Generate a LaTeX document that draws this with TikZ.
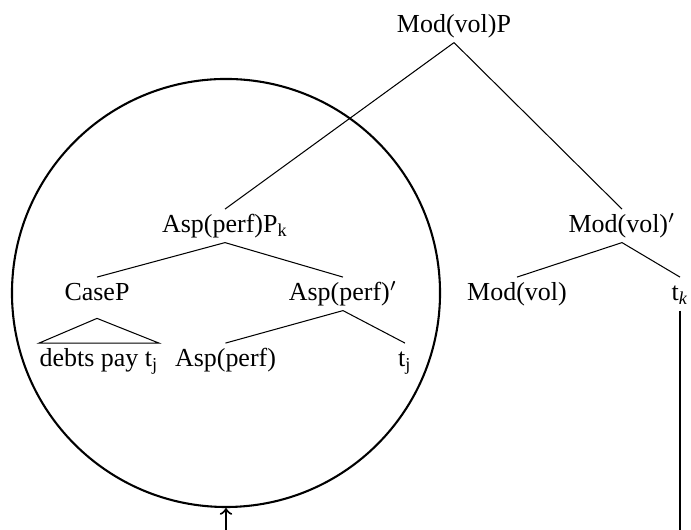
\documentclass[tikz,border=0pt]{standalone}
\usepackage{fontspec}
\setmainfont{Liberation Serif}
\begin{document}
\begin{tikzpicture}[x=0.385pt,y=-0.385pt]
        \tikzstyle{cat} = [anchor=base, inner sep=1pt, text height=.8em, text depth=.25em, font=\fontsize{10}{12}\selectfont]
        \tikzstyle{branch} = [draw=black, line width=.4pt]
        \tikzstyle{move} = [draw=black, line width=.8pt]
        \useasboundingbox (0,0) rectangle (691,530);
        \clip (0,0) rectangle (691,530);
        % tree
        \node[cat] (modp) at (454,33) {Mod(vol)P};
        \node[cat] (aspp) at (225,233) {Asp(perf)P\textsubscript{k}};
        \node[cat] (modbar) at (622,233) {Mod(vol)$'$};
        \node[cat] (casep) at (97,301) {CaseP};
        \node[cat] (aspbar) at (343,301) {Asp(perf)$'$};
        \node[cat] (mod) at (517,301) {Mod(vol)};
        \node[cat] (tk) at (680,301) {t\textsubscript{\textit{k}}};
        \node[cat, inner xsep=0pt] (debts) at (99,367) {debts pay t\textsubscript{j}};
        \node[cat] (asp) at (225.5,367) {Asp(perf)};
        \node[cat] (tj) at (405,367) {t\textsubscript{j}};
        % moved constituent
        \node[draw=black, circle, line width=.8pt, inner sep=0pt, minimum size=164.8pt] (dom) at (226,293) {};
        \coordinate (low) at (453,575);
        \draw[branch] (modp.south) to (aspp.north);
        \draw[branch] (modp.south) to (modbar.north);
        \draw[branch] (aspp.south) to (casep.north);
        \draw[branch] (aspp.south) to (aspbar.north);
        \draw[branch] (modbar.south) to (mod.north);
        \draw[branch] (modbar.south) to (tk.north);
        \draw[branch] (aspbar.south) to (asp.north);
        \draw[branch] (aspbar.south) to (tj.north);
        \draw[branch] ([yshift=-3pt]casep.south) -- (debts.north west) -- (debts.north east) -- cycle;
        \draw[move,->] (tk.south) |- (low) -| (dom.south);
\end{tikzpicture}
\end{document}
